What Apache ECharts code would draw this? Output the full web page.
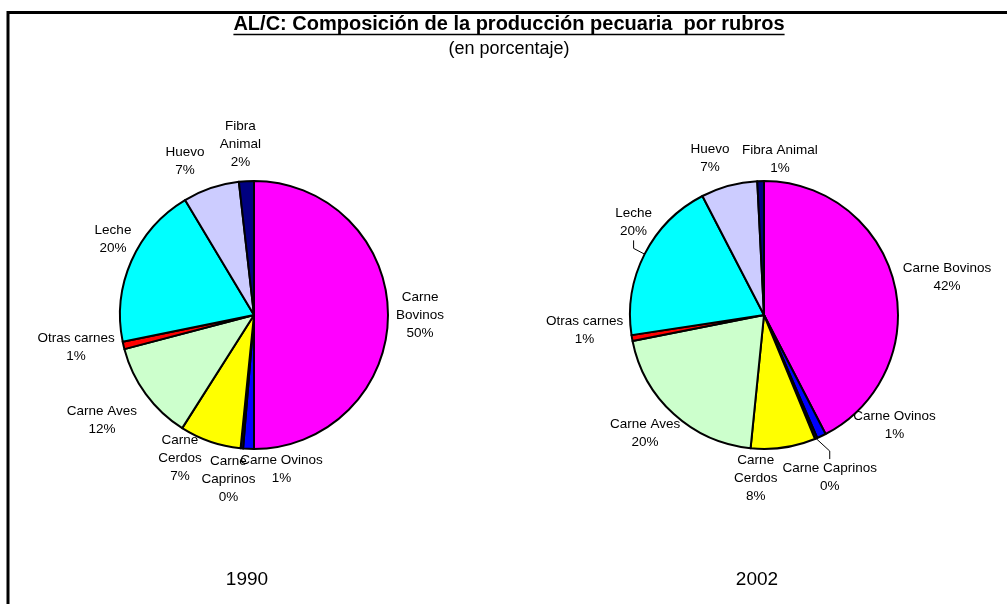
<!DOCTYPE html>
<html><head><meta charset="utf-8">
<script src="https://cdn.jsdelivr.net/npm/echarts@6/dist/echarts.min.js"></script>
<style>html,body{margin:0;padding:0;background:#fff}#c{width:1007px;height:604px}</style>
</head><body><div id="c"></div>
<script>
// ---- data ----
const categories = ['Carne Bovinos','Carne Ovinos','Carne Caprinos','Carne Cerdos','Carne Aves','Otras carnes','Leche','Huevo','Fibra Animal'];
const values1990 = [50.0, 1.3, 0.3, 7.4, 11.9, 0.9, 19.6, 6.8, 1.8];
const values2002 = [42.4, 1.1, 0.3, 7.8, 20.3, 0.7, 19.8, 6.8, 0.8];
const labels1990 = ['Carne\nBovinos','Carne Ovinos','Carne\nCaprinos','Carne\nCerdos','Carne Aves','Otras carnes','Leche','Huevo','Fibra\nAnimal'];
const labels2002 = ['Carne Bovinos','Carne Ovinos','Carne Caprinos','Carne\nCerdos','Carne Aves','Otras carnes','Leche','Huevo','Fibra Animal'];
const years = ['1990', '2002'];
const titleText = 'AL/C: Composición de la producción pecuaria  por rubros';
const subtitleText = '(en porcentaje)';

// ---- styles ----
const colors = ['#FF00FF','#0000FF','#000080','#FFFF00','#CCFFCC','#FF0000','#00FFFF','#CCCCFF','#000080'];
const FONT = '"Liberation Sans", Arial, sans-serif';
const R = 134;
const C1 = [254, 315], C2 = [764, 315];
const GAP = 8;
const nudge1990 = [[0,0],[34,-7],[-10,-6],[-17,-22],[-6,-2],[1,-9],[11,-9],[-16,3],[-4,-1]];
const nudge2002 = [[-1,7],[55,-49],[-3,-1],[-33,-7],[1.5,-14],[1,-16],[18,-17],[-11,2],[20,5]];
const leader2002 = [false,false,true,false,false,false,true,false,false];

function midAngles(vals) {
  const sum = vals.reduce((a,b)=>a+b,0);
  let acc = 0; const out = [];
  vals.forEach(v => { out.push((acc + v/2)/sum*2*Math.PI); acc += v; });
  return out;
}
function makeLayout(center, vals, nudges) {
  const mids = midAngles(vals);
  return function (p) {
    const a = mids[p.dataIndex];
    const dx = Math.sin(a), dy = -Math.cos(a);
    const ex = center[0] + R*dx, ey = center[1] + R*dy;
    const w = p.labelRect.width, h = p.labelRect.height;
    const ext = Math.abs(dx)*w/2 + Math.abs(dy)*h/2;
    const d = GAP + ext;
    const n = nudges[p.dataIndex];
    return { x: ex + dx*d + n[0], y: ey + dy*d + n[1], align: 'center', verticalAlign: 'middle' };
  };
}
function makeSeries(center, vals, lbls, nudges, leaders) {
  return {
    type: 'pie', center: center, radius: R, startAngle: 90, clockwise: true,
    avoidLabelOverlap: false, silent: true,
    itemStyle: { borderColor: '#000', borderWidth: 2 },
    label: { show: true, position: 'outside', color: '#000', fontFamily: FONT, fontSize: 13.5, lineHeight: 18, align: 'center',
      formatter: p => lbls[p.dataIndex] + '\n' + Math.round(p.value) + '%' },
    labelLine: { show: false, lineStyle: { color: '#000', width: 1 }, length: 8, length2: 8 },
    labelLayout: makeLayout(center, vals, nudges),
    data: categories.map((c, i) => ({
      name: c, value: vals[i], itemStyle: { color: colors[i] },
      labelLine: { show: !!(leaders && leaders[i]) }
    }))
  };
}

const TITLE_FONT = 'bold 20px "Liberation Sans"';
const cv = document.createElement('canvas').getContext('2d');
cv.font = TITLE_FONT;
const tw = cv.measureText(titleText).width;
const TX = 509;

const chart = echarts.init(document.getElementById('c'), null, { renderer: 'canvas' });
chart.setOption({
  animation: false,
  backgroundColor: '#fff',
  graphic: [
    { type: 'polyline', shape: { points: [[8, 640], [8, 12.5], [1030, 12.5]] }, style: { stroke: '#000', lineWidth: 3, fill: null } },
    { type: 'text', x: TX, y: 24, style: { text: titleText, font: 'bold 20px ' + FONT, fill: '#000', align: 'center', verticalAlign: 'middle' } },
    { type: 'line', shape: { x1: TX - tw/2, y1: 34.5, x2: TX + tw/2, y2: 34.5 }, style: { stroke: '#000', lineWidth: 1.5 } },
    { type: 'text', x: TX, y: 49, style: { text: subtitleText, font: '18px ' + FONT, fill: '#000', align: 'center', verticalAlign: 'middle' } },
    { type: 'text', x: 247, y: 579.5, style: { text: years[0], font: '19px ' + FONT, fill: '#000', align: 'center', verticalAlign: 'middle' } },
    { type: 'text', x: 757, y: 579.5, style: { text: years[1], font: '19px ' + FONT, fill: '#000', align: 'center', verticalAlign: 'middle' } }
  ],
  series: [
    makeSeries(C1, values1990, labels1990, nudge1990, null),
    makeSeries(C2, values2002, labels2002, nudge2002, leader2002)
  ]
});
</script>
</body></html>
